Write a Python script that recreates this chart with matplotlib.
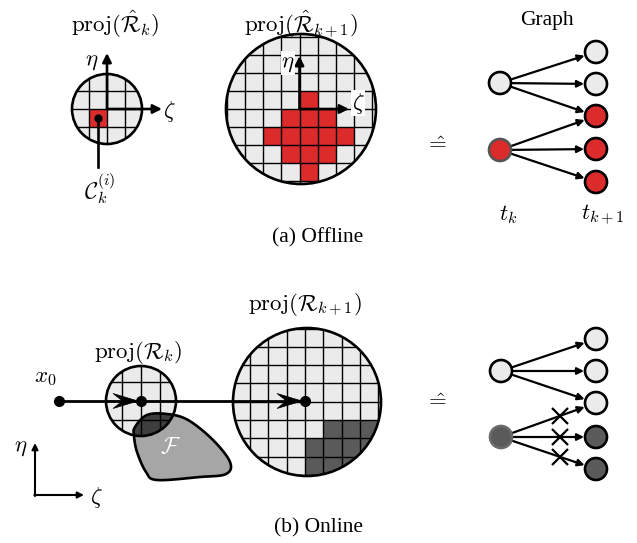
import numpy as np
import matplotlib
matplotlib.use('Agg')
import matplotlib.pyplot as plt
from matplotlib.patches import Circle, Rectangle, Polygon

plt.rcParams['mathtext.fontset'] = 'cm'
SERIF = 'Liberation Serif'

LIGHT = '#ebebeb'
RED = '#dc2b2b'
DARK = '#5a5a5a'
F_GREY = '#a6a6a6'
F_DARK = '#3e3e3e'

# occupied grid cells (column, row) relative to the axis origin, rows grow downward
offline_small_cells = [(-1, 0)]
offline_big_cells = [(0, -1), (-1, 0), (0, 0), (1, 0), (-2, 1), (-1, 1), (0, 1),
                     (1, 1), (2, 1), (-1, 2), (0, 2), (1, 2), (0, 3)]
online_big_cells = [(1, 1), (2, 1), (3, 1), (0, 2), (1, 2), (2, 2), (3, 2),
                    (0, 3), (1, 3), (2, 3), (3, 3)]

# graph: node states at t_k and t_{k+1}, edges (from, to)
offline_left = ['free', 'red']
offline_right = ['free', 'free', 'red', 'red', 'red']
online_left = ['free', 'dark']
online_right = ['free', 'free', 'free', 'dark', 'dark']
edges = [(0, 0), (0, 1), (0, 2), (1, 2), (1, 3), (1, 4)]
blocked = [(1, 2), (1, 3), (1, 4)]

# outline of the obstacle F
f_outline = [(135, 427), (147, 415), (167, 414), (188, 420), (213, 440), (230, 462),
             (226, 474), (200, 477), (157, 480), (146, 472), (137, 452), (134, 436)]

fill_colour = {'free': LIGHT, 'red': RED, 'dark': DARK}


def grid_disc(ax, cx, cy, r, ox, oy, cell, cells, colour):
    disc = Circle((cx, cy), r, facecolor=LIGHT, edgecolor='none', zorder=1)
    ax.add_patch(disc)
    for i, j in cells:
        rect = Rectangle((ox + i * cell, oy + j * cell), cell, cell,
                         facecolor=colour, edgecolor='none', zorder=2)
        ax.add_patch(rect)
        rect.set_clip_path(disc)
    n = int(r // cell) + 2
    for k in range(-n, n + 1):
        l1, = ax.plot([ox + k * cell] * 2, [cy - r, cy + r], color='black', lw=1.0, zorder=3)
        l2, = ax.plot([cx - r, cx + r], [oy + k * cell] * 2, color='black', lw=1.0, zorder=3)
        l1.set_clip_path(disc)
        l2.set_clip_path(disc)
    ax.add_patch(Circle((cx, cy), r, fill=False, edgecolor='black', lw=1.9, zorder=5))
    return disc


def arrow(ax, start, tip, lw=1.9, scale=13):
    ax.annotate('', xy=tip, xytext=start, zorder=6,
                arrowprops=dict(arrowstyle='-|>', lw=lw, color='black',
                                mutation_scale=scale, shrinkA=0, shrinkB=0))


def stealth(ax, tip, length=25, width=15):
    x, y = tip
    pts = [(x, y), (x - length, y - width / 2), (x - length * 0.62, y), (x - length, y + width / 2)]
    ax.add_patch(Polygon(pts, closed=True, facecolor='black', edgecolor='black', lw=0.5, zorder=7))


def smooth_closed(points, steps=20):
    p = np.array(points, dtype=float)
    n = len(p)
    out = []
    for i in range(n):
        p0, p1, p2, p3 = p[i - 1], p[i], p[(i + 1) % n], p[(i + 2) % n]
        for t in np.linspace(0, 1, steps, endpoint=False):
            t2, t3 = t * t, t * t * t
            out.append(0.5 * ((2 * p1) + (-p0 + p2) * t + (2 * p0 - 5 * p1 + 4 * p2 - p3) * t2
                              + (-p0 + 3 * p1 - 3 * p2 + p3) * t3))
    return np.array(out)


def graph(ax, xl, yl, xr, yr, left, right, left_edge, cross=()):
    rad = 11
    for a, b in edges:
        p0 = np.array([xl, yl[a]])
        p1 = np.array([xr, yr[b]])
        d = (p1 - p0) / np.linalg.norm(p1 - p0)
        arrow(ax, p0 + d * rad, p1 - d * (rad + 1), lw=1.6, scale=10)
        if (a, b) in cross:
            c = p0 + (p1 - p0) * 0.62
            ax.plot(c[0], c[1], marker='x', ms=11, mew=1.6, color='black', zorder=8)
    for y, s, ec in zip(yl, left, left_edge):
        ax.add_patch(Circle((xl, y), rad, facecolor=fill_colour[s], edgecolor=ec, lw=1.9, zorder=9))
    for y, s in zip(yr, right):
        ax.add_patch(Circle((xr, y), rad, facecolor=fill_colour[s], edgecolor='black', lw=1.9, zorder=9))


fig = plt.figure(figsize=(6.37, 5.43), dpi=100)
ax = fig.add_axes([0, 0, 1, 1])
ax.set_xlim(0, 637)
ax.set_ylim(543, 0)
ax.axis('off')

ms = 16.5
ts = 15.5
# ---- (a) offline ----
grid_disc(ax, 107, 109, 35, 107, 109, 18, offline_small_cells, RED)
arrow(ax, (107, 109), (107, 53))
arrow(ax, (107, 109), (162, 109))
ax.text(92, 60, r'$\eta$', fontsize=ms, ha='center', va='center')
ax.text(169, 111, r'$\zeta$', fontsize=ms, ha='center', va='center')
ax.plot([98, 98], [118, 167], color='black', lw=1.9, zorder=6)
ax.plot(98, 118, 'o', color='black', ms=5, zorder=7)
ax.text(100, 189, r'$\mathcal{C}_k^{(i)}$', fontsize=ms, ha='center', va='center')
ax.text(115, 24, r'$\mathrm{proj}(\hat{\mathcal{R}}_k)$', fontsize=ms, ha='center', va='center')

grid_disc(ax, 301, 109, 75, 299.5, 109, 18.05, offline_big_cells, RED)
arrow(ax, (299.5, 109), (299.5, 56))
arrow(ax, (299.5, 109), (349, 109))
ax.text(288, 63, r'$\eta$', fontsize=ms, ha='center', va='center', zorder=6,
        bbox=dict(facecolor='white', edgecolor='none', pad=0.5))
ax.text(358, 103, r'$\zeta$', fontsize=ms, ha='center', va='center', zorder=6,
        bbox=dict(facecolor='white', edgecolor='none', pad=0.5))
ax.text(301, 24, r'$\mathrm{proj}(\hat{\mathcal{R}}_{k+1})$', fontsize=ms, ha='center', va='center')

ax.text(435, 143, r'$\hat{=}$', fontsize=ms, ha='center', va='center')
ax.text(547, 21, 'Graph', fontsize=ts, family=SERIF, ha='center', va='center')
graph(ax, 500, [83, 150], 596, [52, 84, 116, 149, 182], offline_left, offline_right,
      ['black', '#555555'])
ax.text(508, 214, r'$t_k$', fontsize=ms, ha='center', va='center')
ax.text(603, 215, r'$t_{k+1}$', fontsize=ms, ha='center', va='center')
ax.text(318, 238, '(a) Offline', fontsize=ts, family=SERIF, ha='center', va='center')

# ---- (b) online ----
f_pts = smooth_closed(f_outline)
small = grid_disc(ax, 141, 401, 35, 141, 401, 18.6, [], DARK)
ax.add_patch(Polygon(f_pts, closed=True, facecolor=F_GREY, edgecolor='none', zorder=1.5))
f_dark = Polygon(f_pts, closed=True, facecolor=F_DARK, edgecolor='none', zorder=2)
ax.add_patch(f_dark)
f_dark.set_clip_path(small)
ax.add_patch(Polygon(f_pts, closed=True, fill=False, edgecolor='black', lw=1.9, zorder=4))
ax.text(170, 447, r'$\mathcal{F}$', fontsize=ms, color='white', ha='center', va='center', zorder=6)

grid_disc(ax, 307, 402, 74, 305, 401.7, 18.3, online_big_cells, DARK)

ax.plot([59, 305], [401, 401], color='black', lw=2.0, zorder=6)
ax.plot([59, 141, 305], [401, 401, 401], 'o', color='black', ms=7, zorder=7)
stealth(ax, (138, 401))
stealth(ax, (302, 401))
ax.text(45, 377, r'$x_0$', fontsize=ms, ha='center', va='center')
ax.text(138, 353, r'$\mathrm{proj}(\mathcal{R}_k)$', fontsize=ms, ha='center', va='center')
ax.text(305, 304, r'$\mathrm{proj}(\mathcal{R}_{k+1})$', fontsize=ms, ha='center', va='center')

arrow(ax, (35, 496), (35, 443), lw=1.5, scale=9)
arrow(ax, (34.3, 495), (84, 495), lw=1.5, scale=9)
ax.text(21, 446, r'$\eta$', fontsize=ms, ha='center', va='center')
ax.text(96, 498, r'$\zeta$', fontsize=ms, ha='center', va='center')

ax.text(435, 400, r'$\hat{=}$', fontsize=ms, ha='center', va='center')
graph(ax, 501, [371, 437], 596, [339, 371, 403, 437, 469], online_left, online_right,
      ['black', '#6a6a6a'], cross=blocked)
ax.text(318, 528, '(b) Online', fontsize=ts, family=SERIF, ha='center', va='center')

fig.savefig('out.png', dpi=100)
